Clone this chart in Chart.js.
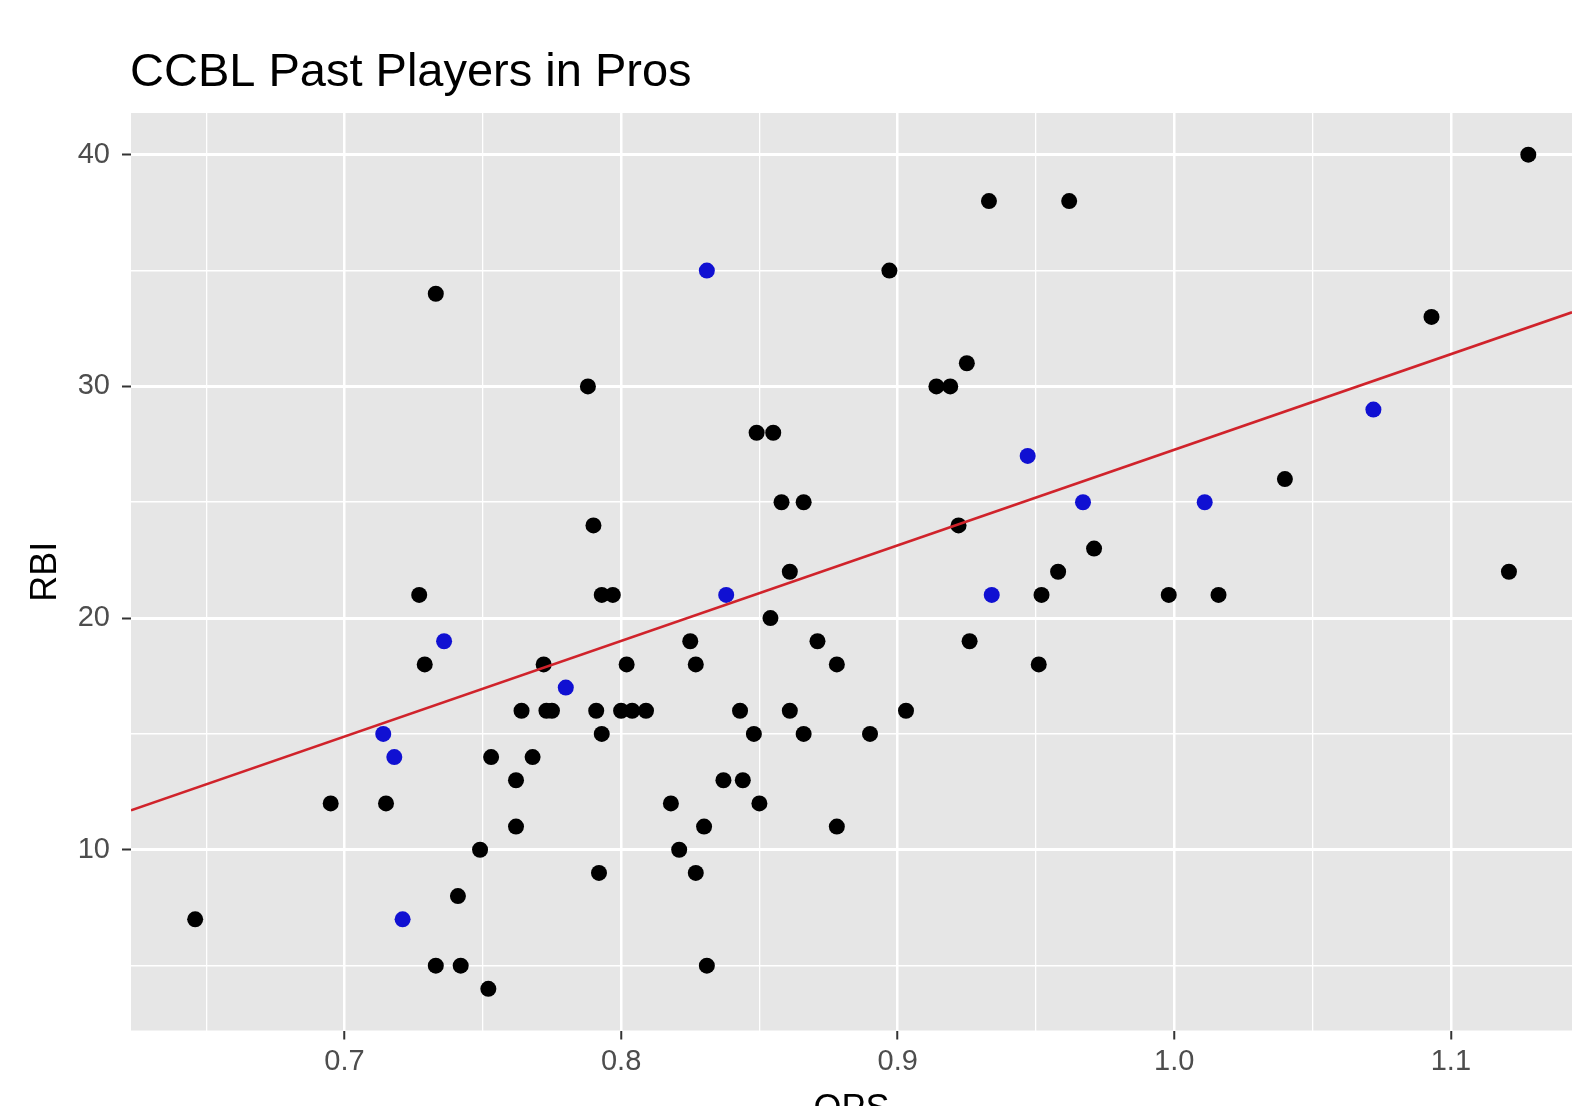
<!DOCTYPE html>
<html>
<head>
<meta charset="utf-8">
<title>CCBL Past Players in Pros</title>
<script src="https://cdn.jsdelivr.net/npm/chart.js@4.4.1/dist/chart.umd.min.js"></script>
<style>
  html, body { margin: 0; padding: 0; background: #ffffff; overflow: hidden; }
  #rbiChart { display: block; }
</style>
</head>
<body>
<canvas id="rbiChart" width="1572" height="1140"></canvas>
<script>
const chartTitle = "CCBL Past Players in Pros";

// players drawn in black
const blackOps = [0.646, 0.695, 0.715, 0.727, 0.729, 0.733, 0.733, 0.742, 0.741, 0.749,
  0.752, 0.753, 0.762, 0.762, 0.764, 0.768, 0.772, 0.773, 0.775, 0.788,
  0.790, 0.791, 0.793, 0.792, 0.793, 0.797, 0.800, 0.804, 0.802, 0.809,
  0.818, 0.821, 0.825, 0.827, 0.827, 0.830, 0.831, 0.837, 0.843, 0.844,
  0.848, 0.849, 0.855, 0.850, 0.854, 0.858, 0.861, 0.861, 0.866, 0.866,
  0.871, 0.878, 0.878, 0.890, 0.897, 0.903, 0.914, 0.919, 0.925, 0.922,
  0.926, 0.933, 0.951, 0.952, 0.958, 0.962, 0.971, 0.998, 1.016, 1.040,
  1.093, 1.121, 1.128];
const blackRbi = [7, 12, 12, 21, 18, 34, 5, 5, 8, 10,
  4, 14, 13, 11, 16, 14, 18, 16, 16, 30,
  24, 16, 15, 9, 21, 21, 16, 16, 18, 16,
  12, 10, 19, 18, 9, 11, 5, 13, 16, 13,
  15, 28, 28, 12, 20, 25, 22, 16, 25, 15,
  19, 18, 11, 15, 35, 16, 30, 30, 31, 24,
  19, 38, 18, 21, 22, 38, 23, 21, 21, 26,
  33, 22, 40];

// players drawn in blue
const blueOps = [0.714, 0.718, 0.721, 0.736, 0.780, 0.831, 0.838, 0.934, 0.947, 0.967, 1.011, 1.072];
const blueRbi = [15, 14, 7, 19, 17, 35, 21, 21, 27, 25, 25, 29];

// red fitted line, read at the panel edges
const trendOps = [0.6228, 1.1438];
const trendRbi = [11.7, 33.2];

const xMajor = [0.7, 0.8, 0.9, 1.0, 1.1];
const xMinor = [0.65, 0.75, 0.85, 0.95, 1.05];
const yMajor = [10, 20, 30, 40];
const yMinor = [5, 15, 25, 35];

const isIn = (list, v) => list.some((m) => Math.abs(m - v) < 1e-6);

const toPoints = (xs, ys) => xs.map((x, i) => ({ x: x, y: ys[i] }));

const panelBackground = {
  id: "panelBackground",
  beforeDraw(chart) {
    const { ctx, chartArea } = chart;
    ctx.save();
    ctx.fillStyle = "#ffffff";
    ctx.fillRect(0, 0, chart.width, chart.height);
    ctx.fillStyle = "#e6e6e6";
    ctx.fillRect(chartArea.left, chartArea.top, chartArea.right - chartArea.left, chartArea.bottom - chartArea.top);
    ctx.restore();
  },
};

const plotTitle = {
  id: "plotTitle",
  afterDraw(chart) {
    const { ctx, chartArea } = chart;
    ctx.save();
    ctx.fillStyle = "#000000";
    ctx.font = '47px "Liberation Sans", Arial, sans-serif';
    ctx.textAlign = "left";
    ctx.textBaseline = "alphabetic";
    ctx.fillText(chartTitle, chartArea.left - 1, 86);
    ctx.restore();
  },
};

const tickFont = { family: '"Liberation Sans", Arial, sans-serif', size: 29 };
const axisTitleFont = { family: '"Liberation Sans", Arial, sans-serif', size: 36 };

let rbiCtx = document.querySelector("#rbiChart").getContext("2d");

let rbiChart = new Chart(rbiCtx, {
  type: "scatter",
  data: {
    datasets: [
      {
        type: "line",
        label: "Fit",
        data: toPoints(trendOps, trendRbi),
        borderColor: "#d0232b",
        borderWidth: 2.6,
        pointRadius: 0,
        fill: false,
        tension: 0,
      },
      {
        label: "Blue",
        data: toPoints(blueOps, blueRbi),
        backgroundColor: "#1010d2",
        pointRadius: 8,
        borderWidth: 0,
      },
      {
        label: "Black",
        data: toPoints(blackOps, blackRbi),
        backgroundColor: "#000000",
        pointRadius: 8,
        borderWidth: 0,
      },
    ],
  },
  options: {
    responsive: false,
    animation: false,
    events: [],
    layout: { autoPadding: false, padding: { top: 113, left: 0, right: 0, bottom: 0 } },
    plugins: {
      legend: { display: false },
      tooltip: { enabled: false },
    },
    scales: {
      x: {
        type: "linear",
        min: 0.6228,
        max: 1.1438,
        afterBuildTicks: (scale) => {
          scale.ticks = xMinor.concat(xMajor).sort((a, b) => a - b).map((v) => ({ value: v }));
        },
        afterFit: (scale) => {
          scale.height = 109.5;
        },
        ticks: {
          font: tickFont,
          color: "#4d4d4d",
          padding: 5,
          maxRotation: 0,
          autoSkip: false,
          callback: (value) => (isIn(xMajor, value) ? value.toFixed(1) : ""),
        },
        grid: {
          color: "#ffffff",
          lineWidth: (c) => (c.tick && isIn(xMajor, c.tick.value) ? 2.5 : 1.3),
          tickColor: (c) => (c.tick && isIn(xMajor, c.tick.value) ? "#333333" : "rgba(0,0,0,0)"),
          tickWidth: 2,
          tickLength: 9,
        },
        border: { display: false },
        title: {
          display: true,
          text: "OPS",
          color: "#000000",
          font: axisTitleFont,
          padding: { top: 0, bottom: 8 },
        },
      },
      y: {
        type: "linear",
        min: 2.2,
        max: 41.8,
        afterBuildTicks: (scale) => {
          scale.ticks = yMinor.concat(yMajor).sort((a, b) => a - b).map((v) => ({ value: v }));
        },
        afterFit: (scale) => {
          scale.width = 131;
        },
        ticks: {
          font: tickFont,
          color: "#4d4d4d",
          padding: 12,
          autoSkip: false,
          callback: (value) => (isIn(yMajor, value) ? String(value) : ""),
        },
        grid: {
          color: "#ffffff",
          lineWidth: (c) => (c.tick && isIn(yMajor, c.tick.value) ? 3 : 1.6),
          tickColor: (c) => (c.tick && isIn(yMajor, c.tick.value) ? "#333333" : "rgba(0,0,0,0)"),
          tickWidth: 2,
          tickLength: 9,
        },
        border: { display: false },
        title: {
          display: true,
          text: "RBI",
          color: "#000000",
          font: axisTitleFont,
          padding: { top: 24, bottom: 0 },
        },
      },
    },
  },
  plugins: [panelBackground, plotTitle],
});
</script>
</body>
</html>
